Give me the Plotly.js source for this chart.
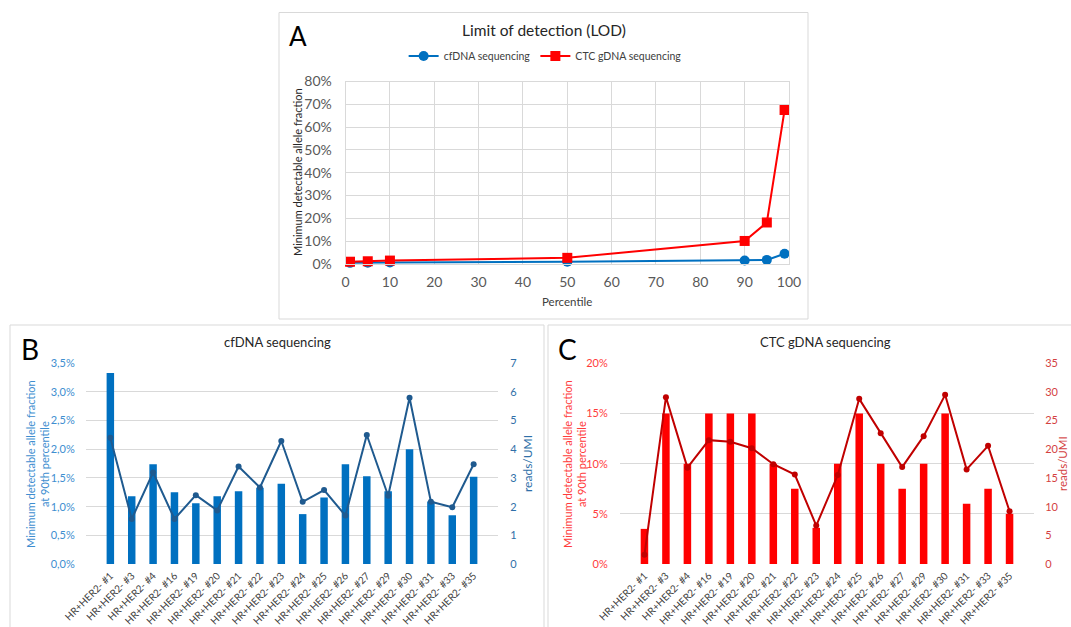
<!DOCTYPE html>
<html>
<head>
<meta charset="utf-8">
<script src="https://cdn.plot.ly/plotly-3.0.1.min.js"></script>
<style>html,body{margin:0;padding:0;background:#fff;}#chart{width:1071px;height:627px;}</style>
</head>
<body>
<div id="chart"></div>
<script>
// ---- Panel A data ----
const percentiles = [1, 5, 10, 50, 90, 95, 99];
const cfdnaLOD = [0.005, 0.006, 0.007, 0.010, 0.015, 0.018, 0.045];
const ctcLOD = [0.010, 0.012, 0.015, 0.027, 0.101, 0.182, 0.675];

// ---- Panels B & C data ----
const patients = ["HR+HER2- #1","HR+HER2- #3","HR+HER2- #4","HR+HER2- #16","HR+HER2- #19","HR+HER2- #20","HR+HER2- #21","HR+HER2- #22","HR+HER2- #23","HR+HER2- #24","HR+HER2- #25","HR+HER2- #26","HR+HER2- #27","HR+HER2- #29","HR+HER2- #30","HR+HER2- #31","HR+HER2- #33","HR+HER2- #35"];
const cfdnaLOD90 = [0.0333,0.0118,0.0174,0.0125,0.0106,0.0118,0.0127,0.0133,0.0140,0.0087,0.0116,0.0174,0.0153,0.0127,0.0200,0.0109,0.0085,0.0152];
const cfdnaReads = [4.40,1.57,3.19,1.57,2.40,1.87,3.40,2.67,4.29,2.17,2.58,1.69,4.50,2.38,5.80,2.17,1.98,3.48];
const ctcLOD90 = [0.035,0.15,0.10,0.15,0.15,0.15,0.10,0.075,0.036,0.10,0.15,0.10,0.075,0.10,0.15,0.06,0.075,0.05];
const ctcReads = [1.6,29.1,16.8,21.6,21.3,20.2,17.4,15.6,6.7,15.5,28.8,22.8,16.9,22.3,29.5,16.5,20.6,9.2];

const W = 1071, H = 627;
const px = v => v / W;
const py = v => 1 - v / H;
const FONT = 'Lato, "Open Sans", "Noto Sans", sans-serif';
const GRID = '#d9d9d9';

const traces = [
  {x: percentiles, y: cfdnaLOD, name: 'cfDNA sequencing', type: 'scatter', mode: 'lines+markers',
   line: {color: '#0070C0', width: 2}, marker: {symbol: 'circle', size: 10, color: '#0070C0'},
   xaxis: 'x', yaxis: 'y', cliponaxis: false},
  {x: percentiles, y: ctcLOD, name: 'CTC gDNA sequencing', type: 'scatter', mode: 'lines+markers',
   line: {color: '#FF0000', width: 2}, marker: {symbol: 'square', size: 10, color: '#FF0000'},
   xaxis: 'x', yaxis: 'y', cliponaxis: false},
  {x: patients, y: cfdnaLOD90, type: 'bar', width: 0.35, marker: {color: '#0070C0'},
   xaxis: 'x2', yaxis: 'y2', showlegend: false},
  {x: patients, y: cfdnaReads, type: 'scatter', mode: 'lines+markers',
   line: {color: '#1F5A8F', width: 2}, marker: {size: 6, color: '#1F5A8F'},
   xaxis: 'x2', yaxis: 'y3', showlegend: false, cliponaxis: false},
  {x: patients, y: ctcLOD90, type: 'bar', width: 0.35, marker: {color: '#FF0000'},
   xaxis: 'x3', yaxis: 'y4', showlegend: false},
  {x: patients, y: ctcReads, type: 'scatter', mode: 'lines+markers',
   line: {color: '#C00000', width: 2}, marker: {size: 6, color: '#C00000'},
   xaxis: 'x3', yaxis: 'y5', showlegend: false, cliponaxis: false}
];

const catAxis = (dom, anchor) => ({
  domain: dom, anchor: anchor, type: 'category', tickangle: -45,
  tickfont: {size: 10, color: '#404040', family: FONT}, showgrid: false,
  showline: false, zeroline: false, ticks: 'outside', ticklen: 1, tickcolor: 'rgba(0,0,0,0)'
});

const layout = {
  width: W, height: H,
  margin: {l: 0, r: 0, t: 0, b: 0},
  paper_bgcolor: '#fff', plot_bgcolor: 'rgba(0,0,0,0)',
  separators: ', ',
  font: {family: FONT, color: '#404040'},
  showlegend: true,
  legend: {orientation: 'h', x: 0.509, xanchor: 'center', y: py(56), yanchor: 'middle',
           font: {size: 10.5, color: '#404040', family: FONT}, itemwidth: 30, bgcolor: 'rgba(0,0,0,0)'},
  bargap: 0.65,
  xaxis: {domain: [px(345.6), px(789)], anchor: 'y', range: [0, 100], dtick: 10,
          showgrid: true, gridcolor: GRID, zeroline: false, showline: true, linecolor: GRID, mirror: true,
          tickfont: {size: 14, color: '#595959'}, ticks: 'outside', ticklen: 5, tickcolor: 'rgba(0,0,0,0)'},
  yaxis: {domain: [py(264), py(81.5)], anchor: 'x', range: [0, 0.8], dtick: 0.1, tickformat: '.0%',
          showgrid: true, gridcolor: GRID, zeroline: false, showline: true, linecolor: GRID, mirror: true,
          tickfont: {size: 14, color: '#595959'}, ticks: 'outside', ticklen: 10, tickcolor: 'rgba(0,0,0,0)'},
  xaxis2: catAxis([px(86), px(498)], 'y2'),
  yaxis2: {domain: [py(564), py(363.3)], anchor: 'x2', range: [0, 0.035], dtick: 0.005, tickformat: '.1%',
           showgrid: true, gridcolor: GRID, zeroline: false, showline: false,
           tickfont: {size: 11, color: '#3E8ED0'}, ticks: 'outside', ticklen: 8, tickcolor: 'rgba(0,0,0,0)'},
  yaxis3: {overlaying: 'y2', side: 'right', anchor: 'x2', range: [0, 7], dtick: 1,
           showgrid: false, zeroline: false, showline: false,
           tickfont: {size: 11, color: '#2F6FA8'}, ticks: 'outside', ticklen: 9, tickcolor: 'rgba(0,0,0,0)'},
  xaxis3: catAxis([px(620), px(1034)], 'y4'),
  yaxis4: {domain: [py(564), py(363.3)], anchor: 'x3', range: [0, 0.20], dtick: 0.05, tickformat: '.0%',
           showgrid: true, gridcolor: GRID, zeroline: false, showline: false,
           tickfont: {size: 11, color: '#FF3B3B'}, ticks: 'outside', ticklen: 9, tickcolor: 'rgba(0,0,0,0)'},
  yaxis5: {overlaying: 'y4', side: 'right', anchor: 'x3', range: [0, 35], dtick: 5,
           showgrid: false, zeroline: false, showline: false,
           tickfont: {size: 11, color: '#D43F3F'}, ticks: 'outside', ticklen: 8, tickcolor: 'rgba(0,0,0,0)'},
  shapes: [
    {type: 'rect', xref: 'paper', yref: 'paper', x0: px(279), x1: px(808), y0: py(319), y1: py(12.5),
     line: {color: '#d9d9d9', width: 1}},
    {type: 'rect', xref: 'paper', yref: 'paper', x0: px(10), x1: px(544), y0: py(640), y1: py(325),
     line: {color: '#d9d9d9', width: 1}},
    {type: 'rect', xref: 'paper', yref: 'paper', x0: px(548), x1: px(1085), y0: py(640), y1: py(325),
     line: {color: '#d9d9d9', width: 1}}
  ],
  annotations: [
    {text: 'A', x: px(298), y: py(36), xref: 'paper', yref: 'paper', showarrow: false,
     font: {size: 26, color: '#000', family: FONT}, xanchor: 'center', yanchor: 'middle'},
    {text: 'B', x: px(30), y: py(349), xref: 'paper', yref: 'paper', showarrow: false,
     font: {size: 28, color: '#000', family: FONT}, xanchor: 'center', yanchor: 'middle'},
    {text: 'C', x: px(567), y: py(349), xref: 'paper', yref: 'paper', showarrow: false,
     font: {size: 28, color: '#000', family: FONT}, xanchor: 'center', yanchor: 'middle'},
    {text: 'Limit of detection (LOD)', x: px(544), y: py(30), xref: 'paper', yref: 'paper', showarrow: false,
     font: {size: 15.5, color: '#262626', family: FONT}, xanchor: 'center', yanchor: 'middle'},
    {text: 'Percentile', x: px(567), y: py(301), xref: 'paper', yref: 'paper', showarrow: false,
     font: {size: 11.5, color: '#404040', family: FONT}, xanchor: 'center', yanchor: 'middle'},
    {text: 'Minimum detectable allele fraction', x: px(297), y: py(172), xref: 'paper', yref: 'paper',
     showarrow: false, textangle: -90, font: {size: 11, color: '#262626', family: FONT},
     xanchor: 'center', yanchor: 'middle'},
    {text: 'cfDNA sequencing', x: px(277), y: py(342), xref: 'paper', yref: 'paper', showarrow: false,
     font: {size: 13, color: '#262626', family: FONT}, xanchor: 'center', yanchor: 'middle'},
    {text: 'CTC gDNA sequencing', x: px(825), y: py(342), xref: 'paper', yref: 'paper', showarrow: false,
     font: {size: 13, color: '#262626', family: FONT}, xanchor: 'center', yanchor: 'middle'},
    {text: 'Minimum detectable allele fraction<br>at 90th percentile', x: px(37), y: py(464),
     xref: 'paper', yref: 'paper', showarrow: false, textangle: -90,
     font: {size: 11, color: '#3E8ED0', family: FONT}, xanchor: 'center', yanchor: 'middle'},
    {text: 'reads/UMI', x: px(527), y: py(464), xref: 'paper', yref: 'paper', showarrow: false, textangle: -90,
     font: {size: 12, color: '#2F6FA8', family: FONT}, xanchor: 'center', yanchor: 'middle'},
    {text: 'Minimum detectable allele fraction<br>at 90th percentile', x: px(574), y: py(464),
     xref: 'paper', yref: 'paper', showarrow: false, textangle: -90,
     font: {size: 11, color: '#FF3B3B', family: FONT}, xanchor: 'center', yanchor: 'middle'},
    {text: 'reads/UMI', x: px(1062), y: py(464), xref: 'paper', yref: 'paper', showarrow: false, textangle: -90,
     font: {size: 11.5, color: '#D43F3F', family: FONT}, xanchor: 'center', yanchor: 'middle'}
  ]
};

Plotly.newPlot('chart', traces, layout, {displayModeBar: false, staticPlot: true});
</script>
</body>
</html>
